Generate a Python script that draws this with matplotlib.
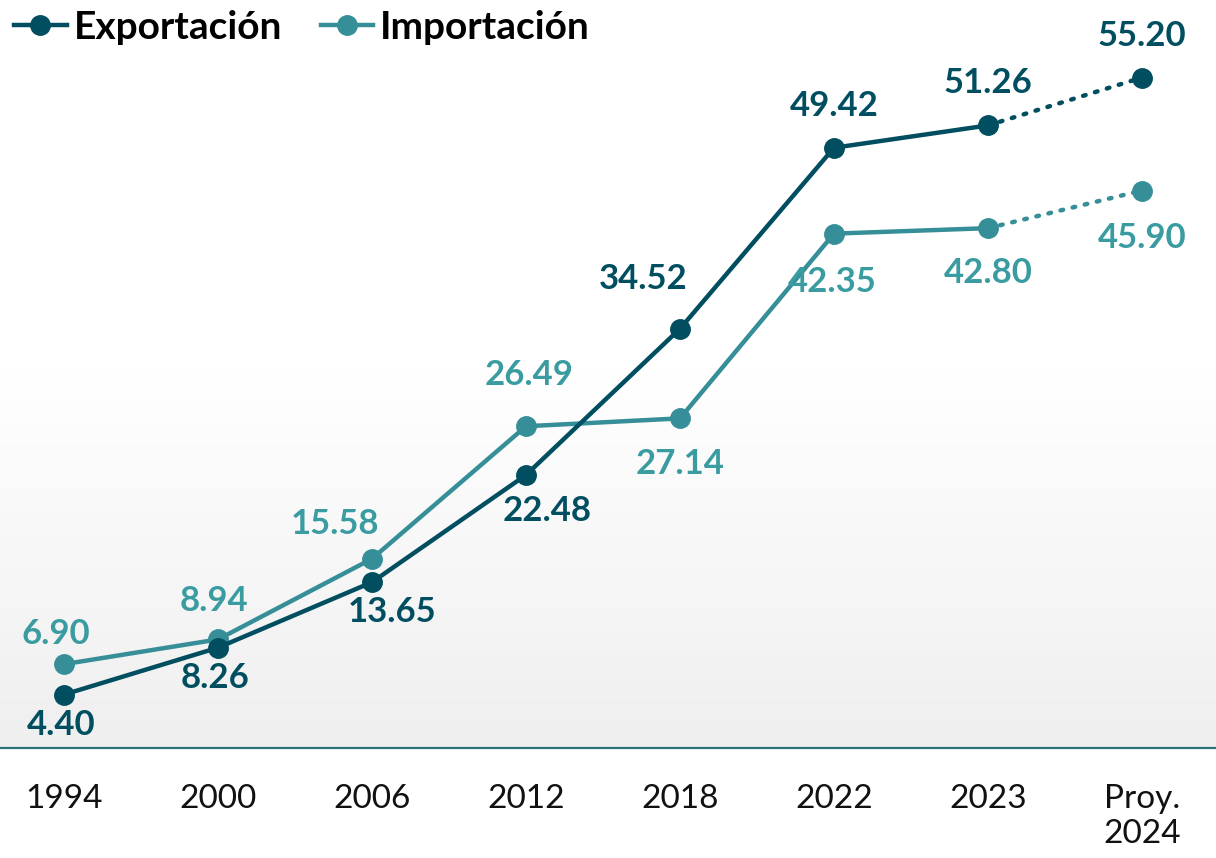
import matplotlib
matplotlib.use("Agg")
import matplotlib.pyplot as plt
import numpy as np
from matplotlib.lines import Line2D
from matplotlib.colors import LinearSegmentedColormap

categories = ["1994", "2000", "2006", "2012", "2018", "2022", "2023", "Proy.\n2024"]
exportacion = [4.40, 8.26, 13.65, 22.48, 34.52, 49.42, 51.26, 55.20]
importacion = [6.90, 8.94, 15.58, 26.49, 27.14, 42.35, 42.80, 45.90]

# label offsets (pixels: dx, dy up-positive) -- styling only
exp_off = [(-3, -30), (-3, -30), (20, -30), (21, -36), (-37, 50), (0, 42), (0, 42), (0, 42)]
imp_off = [(-8, 30), (-4, 38), (-37, 35), (3, 51), (0, -46), (-2, -48), (0, -45), (0, -47)]

DARK = "#004E60"
LIGHT = "#368F98"
LIGHT_TXT = "#3A9CA0"

plt.rcParams['font.family'] = ['Lato', 'DejaVu Sans']

W, H = 1216, 858
fig = plt.figure(figsize=(W / 100, H / 100), dpi=100)
ax_bottom = 748
ax = fig.add_axes([0, (H - ax_bottom) / H, 1, ax_bottom / H])

px_per_cat = 154.0
x0_px = 64.0
xlim = (-x0_px / px_per_cat, (W - x0_px) / px_per_cat)
px_per_unit = (695 - 78) / (55.20 - 4.40)
ylim = (0, ax_bottom / px_per_unit)

grad = np.linspace(0, 1, 256).reshape(-1, 1)
cmap = LinearSegmentedColormap.from_list("bg", ["#FFFFFF", "#FFFFFF", "#EFEFEF"])
ax.imshow(grad, aspect="auto", cmap=cmap, extent=[*xlim, *ylim], origin="upper", zorder=0)
ax.set_xlim(*xlim)
ax.set_ylim(*ylim)

x = np.arange(len(categories))
n = len(categories)
lw = 3.2
ms = 14

for vals, col in [(importacion, LIGHT), (exportacion, DARK)]:
    ax.plot(x[:n - 1], vals[:n - 1], color=col, lw=lw, marker="o", ms=ms,
            solid_capstyle="round", zorder=3)
    ax.plot(x[n - 2:], vals[n - 2:], color=col, lw=lw, linestyle=(0, (0.6, 2.2)),
            dash_capstyle="round", zorder=3)
    ax.plot(x[n - 1:], vals[n - 1:], color=col, lw=0, marker="o", ms=ms, zorder=4)

pt = 0.72
for vals, offs, col in [(exportacion, exp_off, DARK), (importacion, imp_off, LIGHT_TXT)]:
    for i, v in enumerate(vals):
        dx, dy = offs[i]
        ax.annotate(f"{v:.2f}", (x[i], v), xytext=(dx * pt, dy * pt), textcoords="offset points",
                    ha="center", va="center", fontsize=25, fontweight="bold", color=col, zorder=5)

for s in ["top", "right", "left"]:
    ax.spines[s].set_visible(False)
ax.spines["bottom"].set_color("#2A7377")
ax.spines["bottom"].set_linewidth(1.6)
ax.set_yticks([])
ax.set_xticks(x)
ax.set_xticklabels(categories, fontsize=24, color="#111111", linespacing=1.2, va="top")
ax.tick_params(axis="x", length=0, pad=26)

handles = [Line2D([0], [0], color=DARK, lw=lw, marker="o", ms=ms),
           Line2D([0], [0], color=LIGHT, lw=lw, marker="o", ms=ms)]
leg = fig.legend(handles, ["Exportación", "Importación"], loc="upper left",
                 bbox_to_anchor=(14 / W, 1 - 10 / H), ncol=2, frameon=False,
                 prop={"size": 28, "weight": "bold", "family": ["Lato", "DejaVu Sans"]},
                 handlelength=1.35, handletextpad=0.18, columnspacing=1.0,
                 borderpad=0, borderaxespad=0)

fig.savefig("out.png", dpi=100)
